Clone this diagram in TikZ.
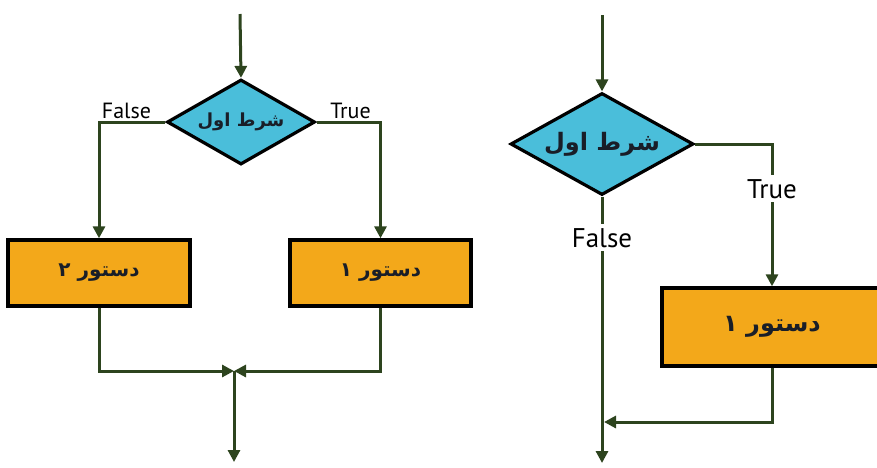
\documentclass[tikz,border=0pt]{standalone}
\usepackage{fontspec}
\usetikzlibrary{shapes.geometric,arrows.meta}
\TeXXeTstate=1
\newfontfamily\fa[Script=Arabic]{DejaVu Sans}
\newfontfamily\lab{PT Sans}
\definecolor{cyanfill}{RGB}{74,190,218}
\definecolor{orangefill}{RGB}{243,168,26}
\definecolor{lnk}{RGB}{45,68,30}
\definecolor{txt}{RGB}{25,30,40}
\begin{document}
\begin{tikzpicture}[x=1pt,y=-1pt,
  flow/.style={draw=lnk,line width=3pt,-{Triangle[length=12pt,width=12pt]}},
  cond/.style={diamond,draw=black,line width=3.2pt,fill=cyanfill,inner sep=0pt,shape aspect=1.78,text=txt},
  stmt/.style={rectangle,draw=black,line width=3.4pt,fill=orangefill,inner sep=0pt,text=txt},
  lbl/.style={inner sep=1pt}]
\useasboundingbox (0,0) rectangle (877,467);
\clip (0,0) rectangle (877,467);
% ---- left diagram ----
\coordinate (s1) at (240,14);
\node[cond,minimum width=148pt,minimum height=85pt,font=\fa\bfseries\fontsize{18}{22}\selectfont] (d1) at (241,122) {\beginR شرط اول\endR};
\node[stmt,minimum width=182pt,minimum height=66pt,font=\fa\bfseries\fontsize{20}{24}\selectfont] (b2) at (99,273) {\beginR دستور ۲\endR};
\node[stmt,minimum width=181pt,minimum height=66pt,font=\fa\bfseries\fontsize{20}{24}\selectfont] (b1) at (380.5,273) {\beginR دستور ۱\endR};
\coordinate (m1) at (234,371);
\coordinate (e1) at (234,462);
\draw[flow] (s1) -- (d1.north);
\draw[flow] (d1.west) -| (b2.north);
\draw[flow] (d1.east) -| (b1.north);
\draw[flow] (b2.south) |- (m1);
\draw[flow] (b1.south) |- (m1);
\draw[flow] (m1) -- (e1);
\node[lbl,anchor=base,font=\lab\fontsize{22}{26}\selectfont] (f1) at (126.5,118) {False};
\node[lbl,anchor=base,font=\lab\fontsize{22}{26}\selectfont] (t1) at (350.5,118) {True};
% ---- right diagram ----
\coordinate (s2) at (602,15);
\node[cond,minimum width=183pt,minimum height=102pt,font=\fa\bfseries\fontsize{24}{28}\selectfont] (d2) at (602,144) {\beginR شرط اول\endR};
\node[stmt,minimum width=220pt,minimum height=78pt,font=\fa\bfseries\fontsize{24}{28}\selectfont] (b3) at (772,327) {\beginR دستور ۱\endR};
\coordinate (j2) at (604,422);
\coordinate (e2) at (602,463);
\draw[flow] (s2) -- (d2.north);
\draw[flow] (d2.east) -| (b3.north);
\draw[flow] (d2.south) -- (e2);
\draw[flow] (b3.south) |- (j2);
\node[lbl,anchor=base,fill=white,inner sep=4pt,font=\lab\fontsize{27}{30}\selectfont] (t2) at (772,198) {True};
\node[lbl,anchor=base,fill=white,inner sep=4pt,font=\lab\fontsize{27}{30}\selectfont] (f2) at (602,247) {False};
\end{tikzpicture}
\end{document}
